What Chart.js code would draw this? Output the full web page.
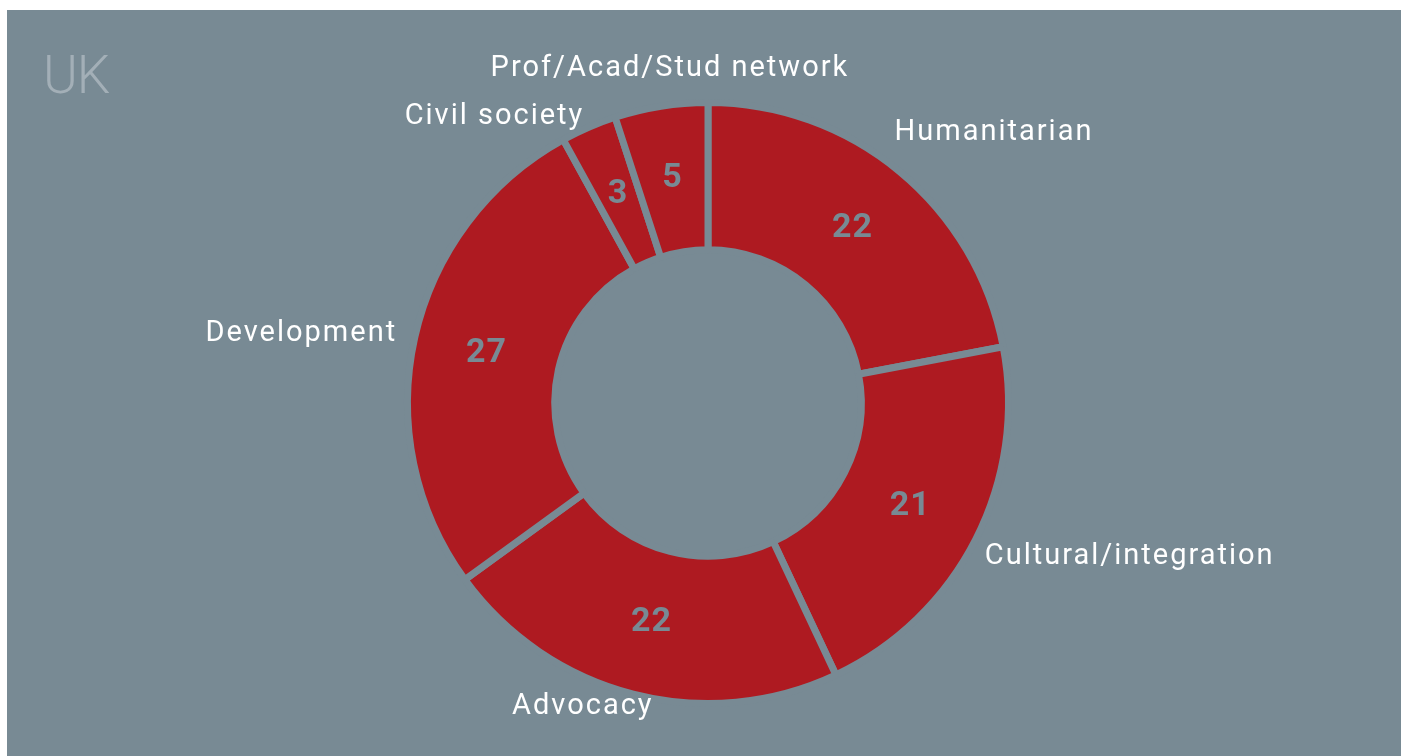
<!DOCTYPE html>
<html>
<head>
<meta charset="utf-8">
<script src="https://cdn.jsdelivr.net/npm/chart.js@4.4.0/dist/chart.umd.min.js"></script>
<style>
  html, body { margin: 0; padding: 0; background: #ffffff; }
  #panel { position: absolute; left: 7px; top: 10px; width: 1394px; height: 746px; background: #788a94; }
  #titulo { position: absolute; left: 36px; top: 39px; font-family: Roboto, sans-serif; font-weight: 300; font-size: 53px; letter-spacing: -1px; color: #a3afb7; line-height: 1; }
  #grafico { position: absolute; left: 0; top: 0; }
</style>
</head>
<body>
<div id="panel">
  <div id="titulo">UK</div>
  <canvas id="grafico" width="1394" height="746"></canvas>
</div>
<script>
var Categorias = ["Humanitarian", "Cultural/integration", "Advocacy", "Development", "Civil society", "Prof/Acad/Stud network"];
var Valores = [22, 21, 22, 27, 3, 5];

var CorFundo = "#788a94";
var CorFatia = "#ae1a21";

// pequenos ajustes na posição dos nomes (graus, px) em relação ao meio da fatia
var AjusteAngulo = [-5, 2, 8, 0, 0, 2.5];
var AjusteRaio = [10, -2, 0, 0, -7, 8];

var RotulosPlugin = {
    id: "rotulos",
    afterDatasetsDraw: function (chart) {
        var ctx = chart.ctx;
        var meta = chart.getDatasetMeta(0);
        ctx.save();
        for (var i = 0; i < meta.data.length; i++) {
            var arc = meta.data[i];
            var meio = (arc.startAngle + arc.endAngle) / 2;
            var rMeio = (arc.innerRadius + arc.outerRadius) / 2;

            // valor dentro da fatia
            ctx.fillStyle = CorFundo;
            ctx.font = "bold 34px Roboto, sans-serif";
            ctx.letterSpacing = "1px";
            ctx.textAlign = "center";
            ctx.textBaseline = "middle";
            ctx.fillText(Valores[i], arc.x + Math.cos(meio) * rMeio, arc.y + Math.sin(meio) * rMeio);

            // nome fora do anel
            var ang = meio + AjusteAngulo[i] * Math.PI / 180;
            var cx = Math.cos(ang);
            var cy = Math.sin(ang);
            var r = arc.outerRadius + 18 + AjusteRaio[i];
            if (Math.abs(cx) < 0.39) {
                ctx.textAlign = "center";
                r = r + 10;
            } else if (cx > 0) {
                ctx.textAlign = "left";
            } else {
                ctx.textAlign = "right";
            }
            ctx.fillStyle = "#ffffff";
            ctx.font = "29px Roboto, sans-serif";
            ctx.letterSpacing = "2px";
            ctx.fillText(Categorias[i], arc.x + cx * r, arc.y + cy * r);
        }
        ctx.restore();
    }
};

new Chart(document.getElementById("grafico"), {
    type: "doughnut",
    data: {
        labels: Categorias,
        datasets: [{
            data: Valores,
            backgroundColor: CorFatia,
            borderColor: CorFundo,
            borderWidth: 7
        }]
    },
    options: {
        responsive: false,
        animation: false,
        cutout: "51%",
        layout: { padding: { top: 89, bottom: 49, left: 8, right: 0 } },
        plugins: {
            legend: { display: false },
            tooltip: { enabled: false }
        }
    },
    plugins: [RotulosPlugin]
});
</script>
</body>
</html>
